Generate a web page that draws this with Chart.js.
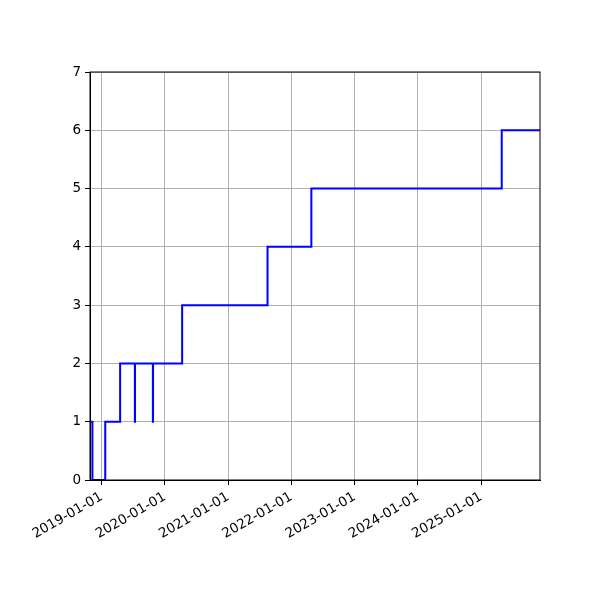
<!DOCTYPE html>
<html>
<head>
<meta charset="utf-8">
<script src="https://cdn.jsdelivr.net/npm/chart.js@4/dist/chart.umd.min.js"></script>
<style>
    body { margin: 0; background: #fff; }
</style>
</head>
<body>
<canvas id="canvas" width="600" height="600"></canvas>
<script>
// dates where the count changes, and the count from that date on
var stepDates = ['2018-10-26', '2018-11-09', '2019-01-22', '2019-04-18', '2019-07-12', '2019-07-13',
                 '2019-10-24', '2019-10-25', '2020-04-10', '2021-08-16', '2022-04-26', '2025-04-29', '2025-12-06'];
var stepValues = [1, 0, 1, 2, 1, 2, 1, 2, 3, 4, 5, 6, 6];

var xTickLabels = ['2019-01-01', '2020-01-01', '2021-01-01', '2022-01-01', '2023-01-01', '2024-01-01', '2025-01-01'];
var xMinDate = '2018-10-26';
var xMaxDate = '2025-12-06';
var yMin = 0;
var yMax = 7;

function toMs(s) {
    var p = s.split('-');
    return Date.UTC(+p[0], +p[1] - 1, +p[2]);
}

var points = stepDates.map(function (d, i) {
    return { x: toMs(d), y: stepValues[i] };
});

var framePlugin = {
    id: 'frame',
    afterDraw: function (chart) {
        var a = chart.chartArea;
        var ctx = chart.ctx;
        ctx.save();
        ctx.strokeStyle = '#000';
        ctx.lineWidth = 1;
        ctx.strokeRect(a.left, a.top, a.right - a.left, a.bottom - a.top);
        ctx.restore();
    }
};

var ctx = document.getElementById("canvas").getContext("2d");

var myLineChart = new Chart(ctx, {
    type: 'line',
    data: {
        datasets: [
            {
                data: points,
                borderColor: '#0000ff',
                borderWidth: 2,
                // horizontal first, then vertical at the next date
                stepped: 'before',
                pointRadius: 0,
                fill: false
            }
        ]
    },
    options: {
        responsive: false,
        animation: false,
        layout: { padding: { top: 72, right: 60, left: 0, bottom: 0 } },
        plugins: {
            legend: { display: false },
            tooltip: { enabled: false }
        },
        scales: {
            x: {
                type: 'linear',
                min: toMs(xMinDate),
                max: toMs(xMaxDate),
                afterBuildTicks: function (scale) {
                    scale.ticks = xTickLabels.map(function (t) { return { value: toMs(t) }; });
                },
                afterFit: function (scale) { scale.height = 120; },
                ticks: {
                    autoSkip: false,
                    maxRotation: 30,
                    minRotation: 30,
                    padding: 4,
                    color: '#000',
                    font: { family: 'DejaVu Sans', size: 13.5 },
                    callback: function (value, index) { return xTickLabels[index]; }
                },
                grid: { color: '#b0b0b0', lineWidth: 1, tickColor: '#000', tickLength: 5 },
                border: { color: '#000', width: 1 }
            },
            y: {
                min: yMin,
                max: yMax,
                afterFit: function (scale) { scale.width = 90; },
                ticks: {
                    stepSize: 1,
                    padding: 4,
                    color: '#000',
                    font: { family: 'DejaVu Sans', size: 13.5 }
                },
                grid: { color: '#b0b0b0', lineWidth: 1, tickColor: '#000', tickLength: 5 },
                border: { color: '#000', width: 1 }
            }
        }
    },
    plugins: [framePlugin]
});
</script>
</body>
</html>
